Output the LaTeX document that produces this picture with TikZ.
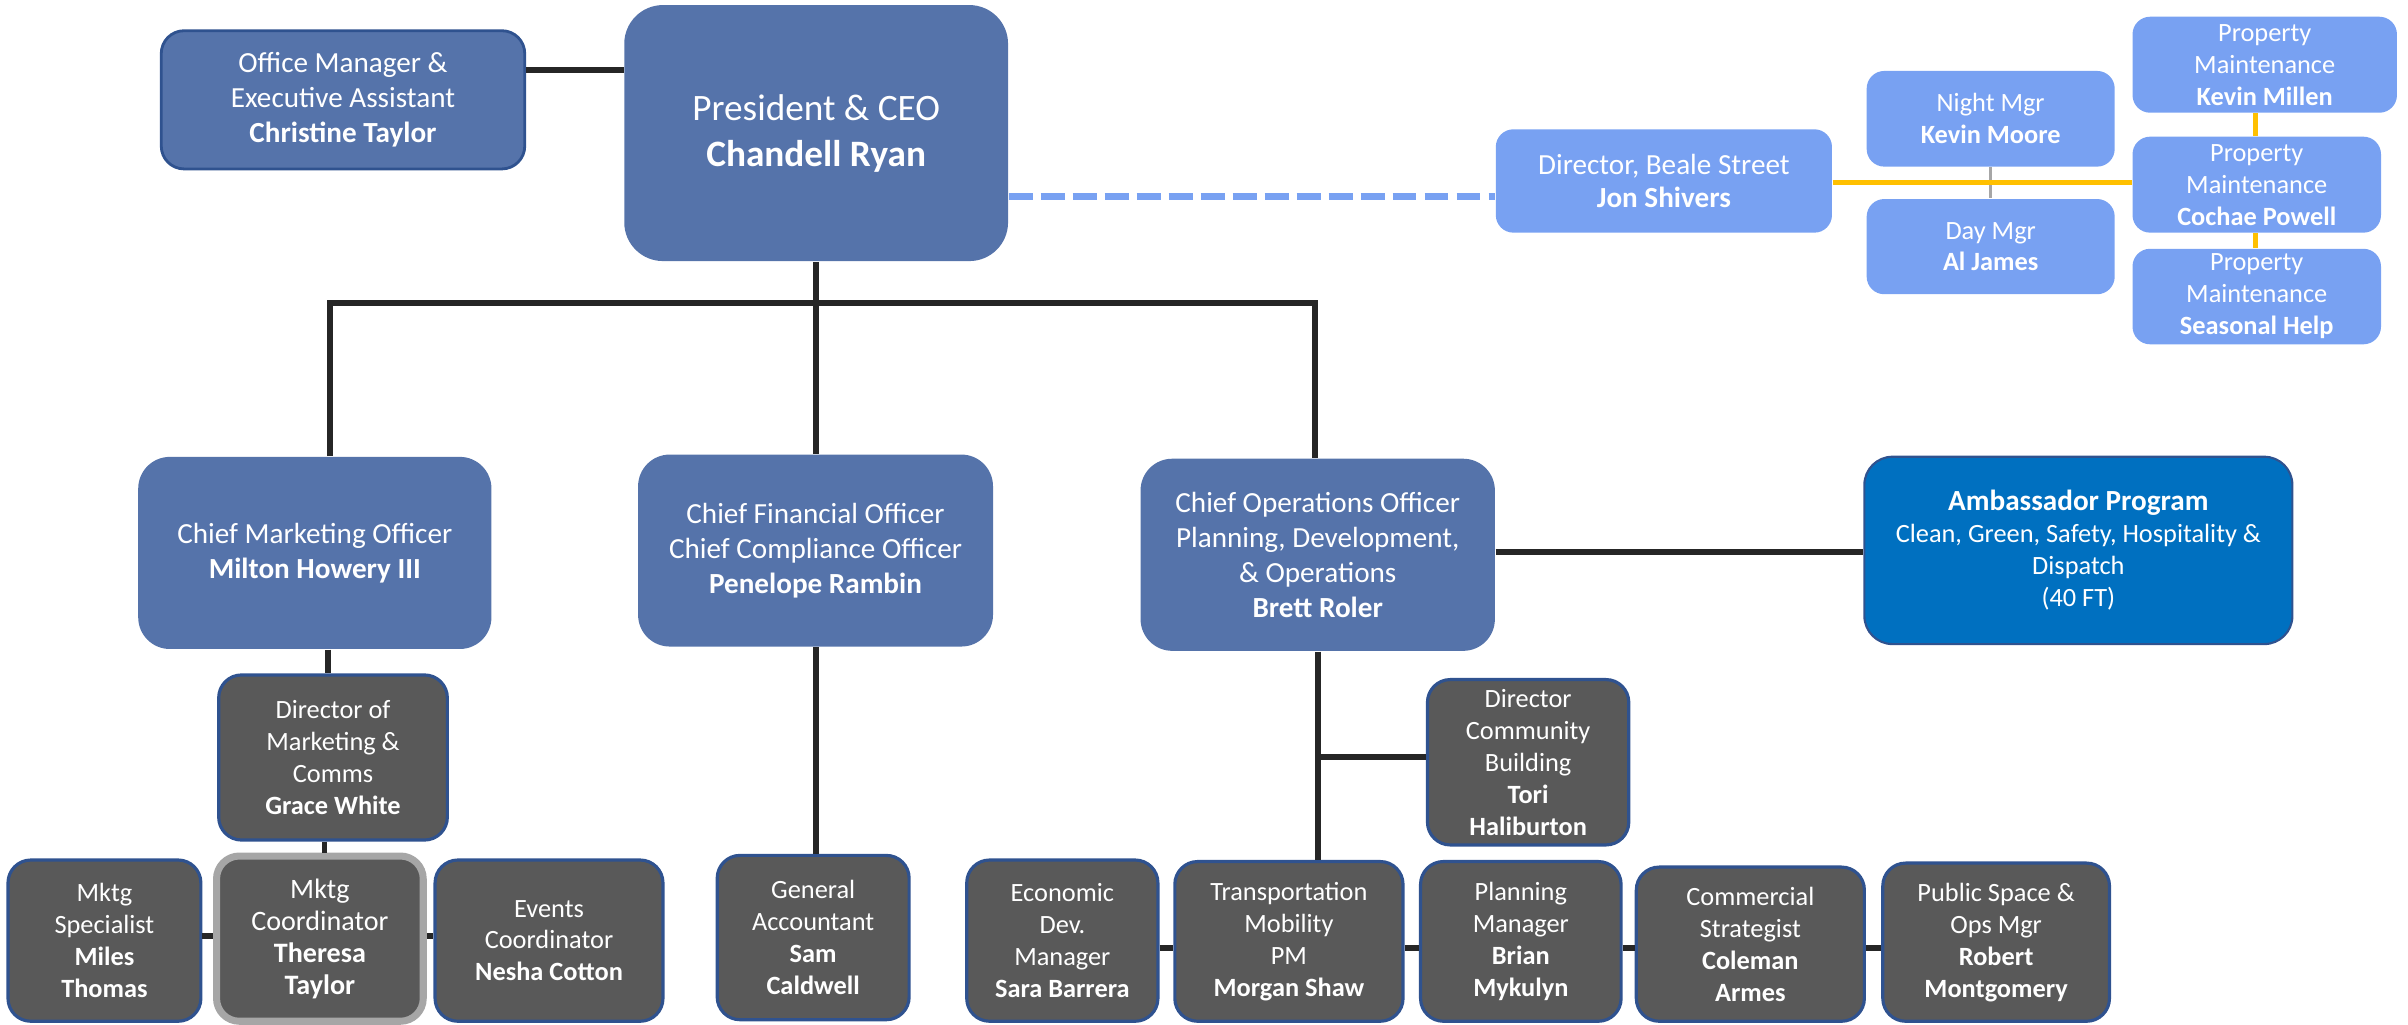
\documentclass[tikz,border=0pt]{standalone}
\usepackage{fontspec}
\setmainfont{Carlito}
\definecolor{midblue}{RGB}{85,115,170}
\definecolor{ltblue}{RGB}{120,161,242}
\definecolor{ambblue}{RGB}{0,112,192}
\definecolor{dkgray}{RGB}{89,89,89}
\definecolor{bord}{RGB}{47,82,143}
\definecolor{conncol}{RGB}{38,38,38}
\definecolor{gold}{RGB}{255,192,0}
\definecolor{ltgray}{RGB}{166,166,166}
\newcommand\fntCeo{\fontsize{10.6}{13.1}\selectfont}
\newcommand\fntBig{\fontsize{8.3}{10}\selectfont}
\newcommand\fntDir{\fontsize{8.3}{9.6}\selectfont}
\newcommand\fntSm{\fontsize{7.5}{9.1}\selectfont}
\newcommand\fntMid{\fontsize{8}{9.1}\selectfont}
\newcommand\ob[7]{\node[#6, minimum width={(#4-#2)*0.15357mm}, minimum height={(#5-#3)*0.15357mm}] (#1) at ({(#2+#4)/2},{(#3+#5)/2}) {#7};}
\tikzset{
  box/.style={inner sep=0pt, align=center, text=white},
  ceobox/.style={box, fill=midblue, rounded corners=11pt, font=\fntCeo},
  lvl/.style={box, fill=midblue, rounded corners=9pt, font=\fntBig},
  offbox/.style={box, fill=midblue, draw=bord, line width=0.8pt, rounded corners=6.5pt, font=\fntBig},
  lbbox/.style={box, fill=ltblue, rounded corners=5pt, font=\fntSm},
  ambbox/.style={box, fill=ambblue, draw=bord, line width=0.6pt, rounded corners=8pt, font=\fntSm},
  gbox/.style={box, fill=dkgray, draw=bord, line width=0.9pt, rounded corners=6.5pt, font=\fntSm},
  mcbox/.style={gbox, draw=ltgray, line width=2pt, font=\fntMid},
  conn/.style={draw=conncol, line width=1.7pt},
  dashconn/.style={draw=ltblue, line width=2.2pt, dash pattern=on 6.8pt off 2.3pt},
  goldconn/.style={draw=gold, line width=1.3pt},
  grayconn/.style={draw=ltgray, line width=1pt}
}
\begin{document}
\begin{tikzpicture}[x=0.15357mm, y=-0.15357mm]
\useasboundingbox (0,0) rectangle (1568,667.4);
% top
\ob{ceo}{406.5}{3.3}{656.4}{170}{ceobox}{President \& CEO\\\textbf{Chandell Ryan}}
\ob{om}{105}{20}{341.7}{110}{offbox}{Office Manager \&\\Executive Assistant\\\textbf{Christine Taylor}}
\ob{dir}{974}{84.2}{1192.9}{151.5}{lbbox, font=\fntDir}{Director, Beale Street\\\textbf{Jon Shivers}}
\ob{night}{1215.5}{46.2}{1377}{108.5}{lbbox}{Night Mgr\\\textbf{Kevin Moore}}
\ob{day}{1215.5}{129.6}{1377}{191.6}{lbbox}{Day Mgr\\\textbf{Al James}}
\ob{pm1}{1388.6}{10.9}{1560.8}{73.4}{lbbox}{Property\\Maintenance\\\textbf{Kevin Millen}}
\ob{pm2}{1388.6}{89}{1550.4}{151.5}{lbbox}{Property\\Maintenance\\\textbf{Cochae Powell}}
\ob{pm3}{1388.6}{162}{1550.4}{224.2}{lbbox}{Property\\Maintenance\\\textbf{Seasonal Help}}
% level 2
\ob{cmo}{90}{297.5}{320}{422.6}{lvl}{Chief Marketing Officer\\\textbf{Milton Howery III}}
\ob{cfo}{415.5}{296}{646.6}{421}{lvl}{Chief Financial Officer\\Chief Compliance Officer\\\textbf{Penelope Rambin}}
\ob{coo}{742.7}{298.7}{973.4}{423.8}{lvl}{Chief Operations Officer\\Planning, Development,\\\& Operations\\\textbf{Brett Roler}}
\ob{amb}{1214}{297.4}{1492.7}{419.4}{ambbox}{{\fntBig\textbf{Ambassador Program}}\\Clean, Green, Safety, Hospitality \&\\Dispatch\\(40 FT)}
% gray boxes
\ob{dm}{142.4}{439.5}{291.3}{547}{gbox}{Director of\\Marketing \&\\Comms\\\textbf{Grace White}}
\ob{ms}{5.2}{560}{130.8}{665}{gbox}{Mktg\\Specialist\\\textbf{Miles}\\\textbf{Thomas}}
\ob{mc}{141}{557.4}{275.6}{665}{mcbox}{Mktg\\Coordinator\\\textbf{Theresa}\\\textbf{Taylor}}
\ob{ev}{283.3}{560}{431.7}{665}{gbox}{Events\\Coordinator\\\textbf{Nesha Cotton}}
\ob{ga}{467}{557}{592}{664}{gbox}{General\\Accountant\\\textbf{Sam}\\\textbf{Caldwell}}
\ob{dc}{929.5}{442.5}{1060.6}{550.2}{gbox}{Director\\Community\\Building\\\textbf{Tori}\\\textbf{Haliburton}}
\ob{ed}{629.5}{560}{754}{665}{gbox}{Economic\\Dev.\\Manager\\\textbf{Sara Barrera}}
\ob{tp}{765}{561}{913.6}{665}{gbox}{Transportation\\Mobility\\PM\\\textbf{Morgan Shaw}}
\ob{pl}{925}{561}{1055.6}{665}{gbox}{Planning\\Manager\\\textbf{Brian}\\\textbf{Mykulyn}}
\ob{cs}{1065.5}{564.6}{1214}{665}{gbox}{Commercial\\Strategist\\\textbf{Coleman}\\\textbf{Armes}}
\ob{ps}{1226}{562}{1373.6}{665}{gbox}{Public Space \&\\Ops Mgr\\\textbf{Robert}\\\textbf{Montgomery}}
% connectors
\coordinate (omy) at (0,45.6);
\draw[conn] (om.east |- omy) -- (ceo.west |- omy);
\coordinate (busL) at (215,197.5);
\coordinate (busR) at (856.3,197.5);
\draw[conn] (busL |- cmo.north) -- (busL) -- (busR) -- (busR |- coo.north);
\draw[conn] (ceo.south) -- (ceo.south |- busL);
\draw[conn] (cfo.north) -- (cfo.north |- busL);
\coordinate (dy) at (0,128);
\draw[dashconn] (ceo.east |- dy) -- (dir.west |- dy);
\draw[grayconn] (night.south) -- (day.north);
\coordinate (yy) at (0,119);
\draw[goldconn] (dir.east |- yy) -- (pm2.west |- yy);
\coordinate (vx) at (1468.5,0);
\draw[goldconn] (vx |- pm1.south) -- (vx |- pm2.north);
\draw[goldconn] (vx |- pm2.south) -- (vx |- pm3.north);
\coordinate (ay) at (0,359.4);
\draw[conn] (coo.east |- ay) -- (amb.west |- ay);
\coordinate (v1) at (213.5,0);
\draw[conn] (v1 |- cmo.south) -- (v1 |- dm.north);
\coordinate (v2) at (211.3,0);
\draw[conn] (v2 |- dm.south) -- (v2 |- mc.north);
\coordinate (hy) at (0,609.5);
\draw[conn] (ms.east |- hy) -- (mc.west |- hy);
\draw[conn] (mc.east |- hy) -- (ev.west |- hy);
\draw[conn] (cfo.south) -- (cfo.south |- ga.north);
\draw[conn] (coo.south) -- (coo.south |- tp.north);
\coordinate (by) at (0,493);
\draw[conn] (coo.south |- by) -- (dc.west |- by);
\coordinate (ry) at (0,617);
\draw[conn] (ed.east |- ry) -- (tp.west |- ry);
\draw[conn] (tp.east |- ry) -- (pl.west |- ry);
\draw[conn] (pl.east |- ry) -- (cs.west |- ry);
\draw[conn] (cs.east |- ry) -- (ps.west |- ry);
\end{tikzpicture}
\end{document}
